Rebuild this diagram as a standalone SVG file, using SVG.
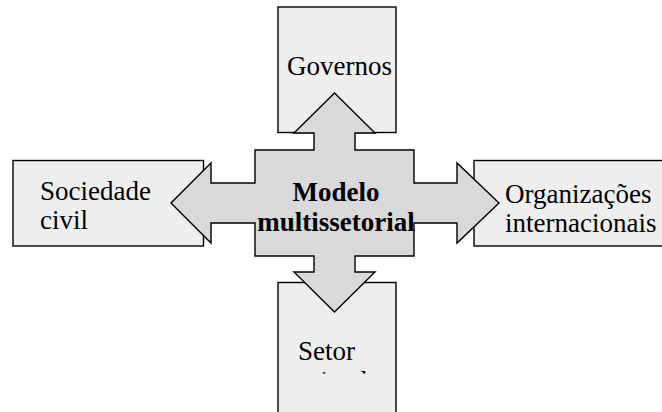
<svg xmlns="http://www.w3.org/2000/svg" width="662" height="412" viewBox="0 0 662 412">
<style>
.box{fill:#eeeeee;stroke:#000;stroke-width:1.4}
.arrow{fill:#d9d9d9;stroke:#000;stroke-width:1.4;stroke-linejoin:miter}
text{font-size:27px;fill:#000}
.b{font-weight:bold;text-anchor:middle}
</style>
<defs>
<clipPath id="setorClip"><rect x="278" y="283" width="118" height="90.5"/></clipPath>
</defs>
<rect width="662" height="412" fill="#fff"/>
<g font-family="'Liberation Serif', 'Times New Roman', Times, serif">
<g id="governos">
<rect class="box" x="278" y="7" width="118" height="125.5"/>
<text x="287" y="75">Governos</text>
</g>
<g id="sociedade">
<rect class="box" x="13" y="160.5" width="190.5" height="85.5"/>
<text x="40" y="200">Sociedade</text>
<text x="40" y="229">civil</text>
</g>
<g id="organizacoes">
<rect class="box" x="474" y="160.5" width="200" height="85.5"/>
<text x="505" y="203">Organizações</text>
<text x="505" y="232">internacionais</text>
</g>
<g id="setor">
<rect class="box" x="278" y="282.5" width="118" height="140"/>
<text x="298" y="360">Setor</text>
<text x="298" y="390" clip-path="url(#setorClip)">privado</text>
</g>
<g id="connectors">
<polygon class="arrow" points="334.5,93 375,133 355,133 355,150 414,150 414,183 457,183 457,163 499,203 457,243 457,223 414,223 414,256 355,256 355,272 375,272 334.5,312 294,272 314,272 314,256 255,256 255,223 211,223 211,243 171,203 211,163 211,183 255,183 255,150 314,150 314,133 294,133"/>
</g>
<g id="modelo">
<text class="b" x="336" y="201">Modelo</text>
<text class="b" x="336" y="231">multissetorial</text>
</g>
</g>
</svg>
